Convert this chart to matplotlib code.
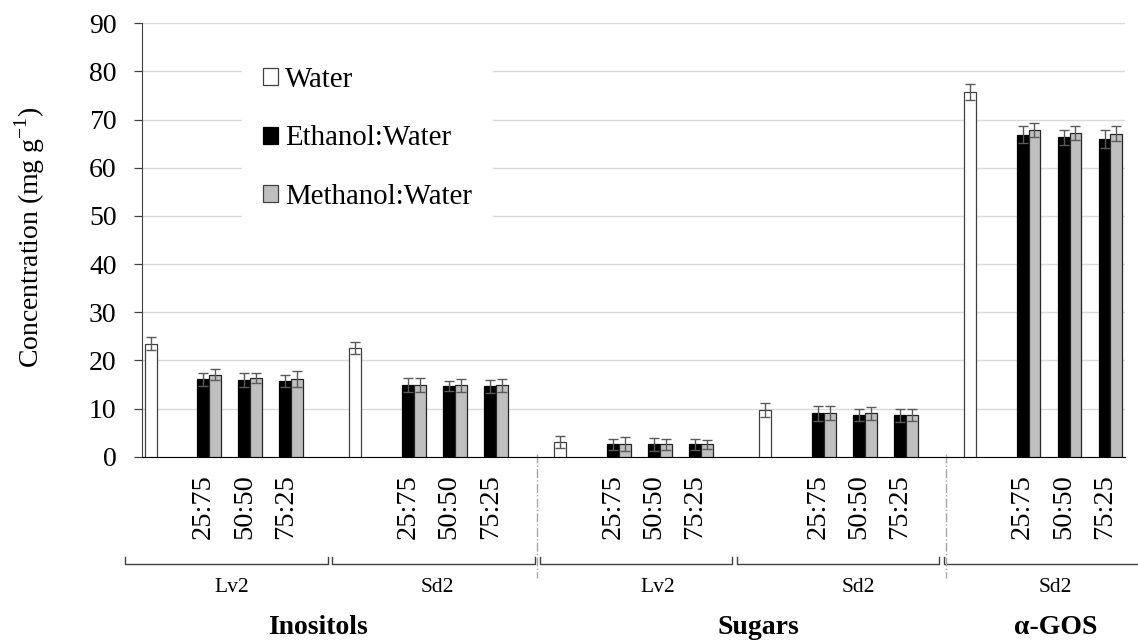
import matplotlib
matplotlib.use("Agg")
import matplotlib.pyplot as plt
from matplotlib.patches import Patch
from matplotlib.lines import Line2D
import matplotlib.transforms as mtrans

plt.rcParams['font.family'] = ['Liberation Serif', 'DejaVu Serif']
plt.rcParams['mathtext.fontset'] = 'custom'
plt.rcParams['mathtext.rm'] = 'Liberation Serif'

# ---------------- data ----------------
group_names = ["Inositols", "Sugars", "\u03b1-GOS"]
group_label_x = [3.8, 14.55, 21.8]
sub_names = ["Lv2", "Sd2", "Lv2", "Sd2", "Sd2"]
sub_label_x = [1.7, 6.7, 12.1, 17.0, 21.8]
ratios = ["25:75", "50:50", "75:25"]

water = [23.5, 22.6, 3.0, 9.7, 75.7]
water_err = [1.3, 1.2, 1.2, 1.4, 1.7]
ethanol = [[16.1, 15.9, 15.7], [14.8, 14.6, 14.6], [2.55, 2.55, 2.55],
           [9.0, 8.7, 8.6], [66.9, 66.3, 66.0]]
ethanol_err = [[1.35, 1.5, 1.25], [1.45, 1.05, 1.3], [1.15, 1.35, 1.15],
               [1.5, 1.2, 1.4], [1.8, 1.5, 1.8]]
methanol = [[17.0, 16.4, 16.1], [14.9, 14.8, 14.8], [2.55, 2.55, 2.55],
            [9.1, 9.0, 8.7], [67.8, 67.2, 67.1]]
methanol_err = [[1.15, 1.05, 1.7], [1.45, 1.4, 1.3], [1.45, 1.15, 0.95],
                [1.45, 1.3, 1.2], [1.5, 1.4, 1.5]]

brace_spans = [(-0.92, 4.04), (4.14, 9.09), (9.22, 13.9), (14.02, 18.97), (19.09, 24.2)]
separators_x = [9.15, 19.13]

# ---------------- layout ----------------
W, H = 1138, 640
fig = plt.figure(figsize=(W / 100, H / 100), dpi=100)
ax = fig.add_axes([142 / W, 1 - 456.7 / H, 983 / W, (456.7 - 23.3) / H])

bw = 0.29
slots_per_group = 5
ecolor = '#5a5a5a'
err_kw = dict(ecolor=ecolor, elinewidth=1.0, capsize=3.6, capthick=1.0)

tick_pos, tick_lab = [], []
for g in range(len(water)):
    base = g * slots_per_group
    ax.bar(base - bw, water[g], bw, yerr=water_err[g], color='white',
           edgecolor='#404040', linewidth=0.9, error_kw=err_kw, zorder=3)
    for i, r in enumerate(ratios):
        c = base + 1 + i
        ax.bar(c, ethanol[g][i], bw, yerr=ethanol_err[g][i], color='black',
               edgecolor='black', linewidth=0.9, error_kw=err_kw, zorder=3)
        ax.bar(c + bw, methanol[g][i], bw, yerr=methanol_err[g][i], color='#bfbfbf',
               edgecolor='#262626', linewidth=0.9, error_kw=err_kw, zorder=3)
        tick_pos.append(c)
        tick_lab.append(r)

ax.set_xlim(-0.5, 23.5)
ax.set_ylim(0, 90)
ax.set_yticks(range(0, 91, 10))
ax.yaxis.grid(True, color='#d9d9d9', linewidth=1.0, zorder=0)
ax.set_axisbelow(True)
for s in ['top', 'right']:
    ax.spines[s].set_visible(False)
ax.spines['left'].set_color('#404040')
ax.spines['bottom'].set_color('black')
ax.tick_params(axis='y', direction='out', length=5.8, width=0.9, colors='#404040',
               labelcolor='black', labelsize=20, pad=12.5)
ax.set_xticks(tick_pos)
ax.set_xticklabels(tick_lab, rotation=90, fontsize=20.5)
ax.tick_params(axis='x', length=0, pad=12.5)

fig.text(30 / W, 1 - 237 / H, r'Concentration (mg g$^{\mathregular{-1}}$)',
         rotation=90, ha='center', va='center', fontsize=20)

# legend
handles = [Patch(facecolor='white', edgecolor='#404040', linewidth=0.9),
           Patch(facecolor='black', edgecolor='black', linewidth=0.9),
           Patch(facecolor='#bfbfbf', edgecolor='#404040', linewidth=0.9)]
leg = ax.legend(handles, ['Water', 'Ethanol:Water', 'Methanol:Water'],
                loc='upper left', bbox_to_anchor=(242 / W, 1 - 46 / H),
                bbox_transform=fig.transFigure, fontsize=20.8, frameon=True,
                fancybox=False, borderpad=0.72, borderaxespad=0,
                handlelength=0.53, handleheight=0.53, handletextpad=0.25,
                labelspacing=1.13)
leg.get_frame().set_facecolor('white')
leg.get_frame().set_edgecolor('none')
leg.get_frame().set_alpha(1)
leg.set_zorder(5)

# category braces and labels
trans = mtrans.blended_transform_factory(ax.transData, fig.transFigure)
y_line = 1 - 564 / H
y_end = 1 - 557 / H
for (x0, x1) in brace_spans:
    ax.add_line(Line2D([x0, x0, x1, x1], [y_end, y_line, y_line, y_end],
                       transform=trans, color='#404040', linewidth=1.0,
                       clip_on=False))
for xs in separators_x:
    ax.add_line(Line2D([xs, xs], [1 - 454 / H, 1 - 578 / H], transform=trans,
                       color='#a6a6a6', linewidth=1.0, linestyle='-.',
                       clip_on=False))
for xl, name in zip(sub_label_x, sub_names):
    ax.text(xl, 1 - 587 / H, name, transform=trans, ha='center', va='center',
            fontsize=15.5)
for xl, name in zip(group_label_x, group_names):
    ax.text(xl, 1 - 627 / H, name, transform=trans, ha='center', va='center',
            fontsize=20, fontweight='bold')

fig.savefig('out.png', dpi=100)
